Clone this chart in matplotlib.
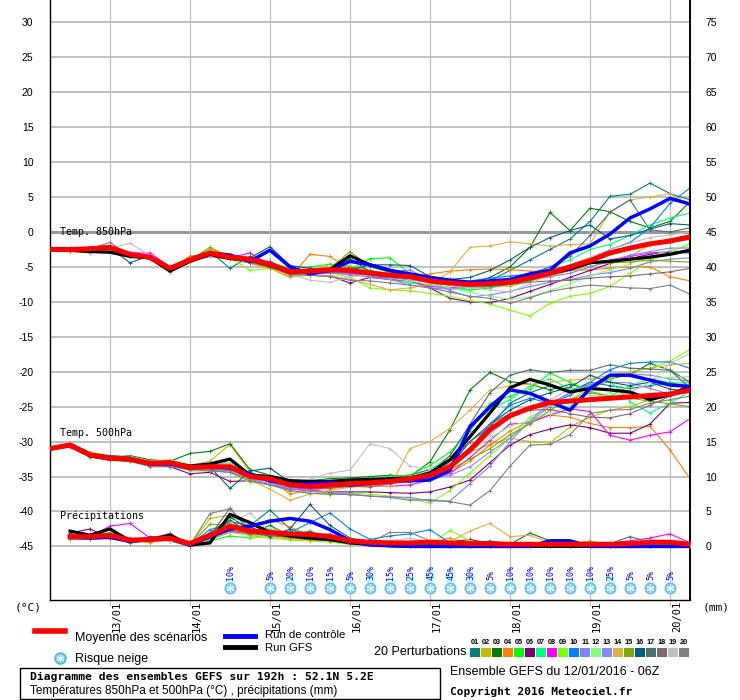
import numpy as np
import matplotlib.pyplot as plt
from matplotlib.lines import Line2D
from matplotlib.patches import Rectangle

# 6-hourly steps from 12/01 06Z to 20/01 06Z
steps = np.arange(33)
day_steps = [3, 7, 11, 15, 19, 23, 27, 31]
day_labels = ['13/01', '14/01', '15/01', '16/01', '17/01', '18/01', '19/01', '20/01']

pert_colors = ['#008080', '#c0c000', '#008000', '#ff8000', '#00ff00', '#800080', '#00ff80',
               '#ff00ff', '#80ff00', '#0080ff', '#8080ff', '#80ff80', '#8888ff', '#e0b040',
               '#80a800', '#006080', '#507070', '#806870', '#c0c0c0', '#808080']

# Temp 850hPa
mean850 = [-2.5,-2.5,-2.4,-2.2,-3.2,-3.6,-5.2,-4.0,-3.0,-3.6,-3.9,-4.6,-5.7,-5.6,-5.4,-5.5,-5.9,
           -6.2,-6.4,-7.0,-7.3,-7.5,-7.4,-7.2,-6.6,-5.9,-5.0,-4.1,-3.0,-2.3,-1.7,-1.3,-0.7]
ctrl850 = [-2.5,-2.5,-2.4,-2.2,-3.2,-3.6,-5.2,-4.0,-3.0,-3.3,-4.2,-2.6,-5.0,-6.0,-5.5,-4.2,-4.7,
           -5.5,-6.0,-6.5,-6.9,-7.2,-7.0,-6.8,-6.0,-5.5,-3.0,-2.0,-0.3,2.0,3.3,4.8,4.0]
gfs850 = [-2.6,-2.6,-2.8,-2.9,-3.5,-3.7,-5.6,-4.2,-3.2,-3.8,-4.0,-4.8,-5.8,-5.8,-5.4,-3.4,-4.7,
          -5.5,-6.2,-6.8,-7.2,-7.4,-7.2,-7.0,-6.6,-6.0,-5.3,-4.4,-4.2,-3.9,-3.6,-3.2,-2.6]
pert850 = [
    [-2.4,-2.3,-2.2,-2.0,-3.0,-3.4,-5.4,-3.8,-2.8,-5.2,-3.5,-4.4,-5.5,-6.0,-5.6,-5.0,-5.5,-6.0,-6.3,-6.8,-7.0,-7.2,-7.0,-5.5,-4.0,-2.5,-1.0,1.5,5.1,5.4,7.0,5.5,4.6],
    [-2.6,-2.5,-2.5,-2.3,-3.3,-3.5,-5.0,-3.9,-2.4,-3.5,-3.8,-4.8,-5.0,-5.8,-4.6,-4.8,-5.6,-6.0,-6.4,-7.2,-7.6,-7.5,-7.6,-7.8,-7.0,-6.4,-5.5,-4.9,-4.3,-3.5,-1.8,-1.0,-0.4],
    [-2.5,-2.6,-2.5,-2.4,-3.4,-3.8,-5.3,-4.2,-3.2,-3.4,-4.2,-4.6,-5.8,-5.7,-5.5,-3.8,-5.7,-6.3,-6.6,-7.0,-7.5,-7.4,-6.5,-5.0,-2.2,2.8,0.2,3.4,2.9,1.5,0.6,1.5,4.3],
    [-2.7,-2.8,-3.0,-2.6,-3.3,-3.8,-5.5,-3.4,-3.3,-3.5,-4.5,-5.2,-6.5,-3.2,-3.5,-5.4,-6.0,-6.4,-6.6,-6.0,-5.6,-5.4,-5.3,-5.4,-5.6,-5.8,-5.5,-5.4,-5.2,-5.0,-5.0,-6.4,-7.0],
    [-2.2,-2.7,-2.5,-2.5,-3.4,-3.6,-5.0,-3.8,-3.1,-3.8,-4.0,-4.3,-5.2,-5.0,-4.6,-5.4,-3.8,-3.7,-6.0,-7.3,-8.0,-8.3,-8.0,-7.5,-7.0,-6.0,-4.8,-3.8,-3.0,-2.5,-1.8,-1.4,-1.1],
    [-2.6,-2.4,-2.3,-2.3,-3.0,-3.8,-5.4,-4.2,-3.5,-3.9,-4.3,-5.0,-6.0,-6.2,-6.3,-7.3,-6.5,-6.8,-7.0,-8.0,-9.5,-10.0,-10.1,-9.5,-8.5,-7.5,-6.5,-5.5,-4.5,-3.8,-3.2,-2.9,-3.0],
    [-2.5,-2.4,-2.6,-2.3,-3.4,-3.7,-5.1,-4.0,-3.2,-3.7,-4.2,-5.0,-5.9,-5.3,-5.7,-6.0,-6.3,-6.8,-7.3,-7.6,-7.9,-8.2,-7.8,-7.5,-6.2,-5.0,-4.0,-2.5,-1.8,-0.5,1.0,2.0,2.7],
    [-2.4,-2.5,-2.3,-2.4,-3.0,-3.0,-5.0,-4.1,-3.3,-3.7,-3.0,-4.8,-6.2,-6.0,-5.8,-6.1,-6.4,-6.8,-7.0,-7.8,-8.0,-7.6,-7.2,-6.8,-6.5,-6.0,-5.5,-4.5,-4.0,-3.5,-3.0,-2.8,-2.9],
    [-2.3,-2.4,-2.5,-2.3,-3.3,-3.7,-5.3,-4.1,-2.6,-3.7,-5.5,-5.2,-6.2,-6.0,-5.8,-6.5,-8.0,-8.3,-8.4,-8.8,-9.2,-9.8,-10.3,-11.2,-12.0,-10.2,-9.2,-8.8,-7.8,-5.9,-4.0,-3.0,-1.6],
    [-2.5,-2.5,-2.4,-2.2,-3.3,-3.4,-5.3,-4.1,-3.0,-3.8,-4.4,-4.2,-5.8,-6.0,-5.3,-5.9,-6.4,-6.6,-6.8,-7.1,-7.3,-7.0,-6.6,-6.3,-6.0,-5.8,-5.5,-4.0,-2.5,-1.5,0.6,4.1,6.3],
    [-2.4,-2.5,-2.4,-2.5,-3.2,-3.6,-5.1,-4.1,-3.4,-3.6,-4.0,-4.6,-5.7,-5.8,-5.9,-6.0,-6.1,-5.8,-5.4,-7.0,-8.4,-9.3,-9.0,-8.5,-7.8,-7.2,-6.8,-6.2,-5.8,-5.2,-4.3,-3.9,-3.7],
    [-2.6,-2.5,-2.4,-2.3,-3.1,-3.5,-5.1,-3.9,-3.0,-3.5,-3.8,-4.5,-5.6,-5.8,-5.6,-5.8,-6.0,-6.6,-7.0,-7.5,-8.0,-8.6,-9.2,-9.6,-9.3,-8.4,-7.4,-6.3,-5.4,-4.6,-3.5,-2.6,-2.0],
    [-2.5,-2.6,-2.5,-2.4,-3.2,-3.7,-5.2,-3.9,-3.1,-3.6,-3.9,-4.7,-5.6,-6.0,-5.9,-6.0,-6.4,-6.8,-7.6,-8.0,-8.2,-7.8,-7.5,-7.2,-6.8,-6.4,-5.9,-5.0,-4.2,-3.3,-2.8,-2.3,-2.3],
    [-2.6,-2.7,-2.8,-2.5,-3.5,-3.9,-5.6,-4.3,-3.4,-3.9,-4.1,-4.9,-6.4,-6.2,-6.2,-6.8,-7.5,-8.3,-8.0,-7.5,-5.7,-2.2,-2.0,-1.4,-1.7,-2.0,-1.8,-1.7,2.9,4.6,5.0,5.5,3.9],
    [-2.5,-2.4,-2.6,-2.4,-3.3,-3.6,-5.3,-4.0,-2.2,-3.6,-3.8,-5.2,-5.6,-5.6,-5.2,-2.8,-5.0,-5.8,-6.4,-7.0,-7.6,-7.7,-7.4,-6.9,-6.0,-5.4,-4.8,-4.5,-4.4,-4.3,-4.0,-4.2,-4.3],
    [-2.4,-2.3,-2.5,-2.3,-4.4,-3.4,-5.0,-3.7,-2.8,-3.4,-3.7,-2.1,-4.8,-5.2,-5.6,-5.4,-4.7,-4.7,-4.8,-6.4,-6.8,-6.5,-5.5,-4.0,-2.2,-0.8,0.2,1.0,-1.0,-0.5,0.4,1.2,1.0],
    [-2.5,-2.4,-2.3,-2.3,-3.2,-3.6,-5.1,-3.9,-3.1,-3.6,-4.0,-4.5,-5.5,-5.4,-5.5,-5.6,-6.0,-6.2,-6.4,-6.8,-7.2,-7.4,-7.3,-6.8,-6.0,-5.0,-3.5,-0.5,2.8,4.6,0.3,0.0,0.6],
    [-2.6,-2.5,-2.4,-2.3,-3.3,-3.7,-5.3,-4.0,-3.2,-3.7,-4.1,-4.8,-5.9,-5.8,-5.7,-5.8,-6.2,-6.5,-6.8,-7.2,-7.6,-7.9,-7.8,-7.5,-7.2,-7.0,-6.9,-6.6,-6.4,-6.3,-6.0,-5.7,-5.2],
    [-2.4,-2.5,-2.3,-2.4,-1.6,-3.4,-5.0,-3.7,-3.2,-3.5,-3.9,-4.7,-6.0,-6.9,-7.2,-6.4,-6.2,-6.4,-6.8,-7.2,-7.6,-8.0,-8.3,-8.6,-7.4,-6.0,-4.7,-3.6,-2.5,-1.6,-0.8,-0.4,0.0],
    [-2.7,-2.6,-2.4,-1.5,-3.4,-3.9,-5.7,-4.2,-3.3,-3.9,-4.4,-4.9,-6.1,-6.2,-6.4,-6.9,-7.0,-7.3,-7.6,-8.0,-8.6,-9.2,-9.5,-10.2,-9.4,-8.5,-8.0,-7.6,-7.8,-8.0,-8.1,-7.6,-8.9],
]

# Temp 500hPa
mean500 = [-31.0,-30.5,-31.9,-32.4,-32.5,-33.1,-33.0,-33.7,-33.6,-33.6,-35.0,-35.3,-36.2,-36.4,-36.2,-36.0,-35.9,
           -35.7,-35.3,-34.8,-33.6,-31.2,-28.3,-26.3,-25.2,-24.4,-24.2,-24.0,-23.8,-23.6,-23.4,-23.2,-22.6]
ctrl500 = [-31.0,-30.5,-32.0,-32.5,-32.6,-33.2,-33.2,-33.8,-33.5,-33.8,-34.6,-35.6,-36.1,-36.0,-35.8,-36.2,-36.0,
           -35.6,-35.6,-35.5,-34.1,-27.9,-25.0,-22.6,-23.1,-24.3,-25.5,-22.4,-20.5,-20.5,-21.2,-21.9,-22.1]
gfs500 = [-31.0,-30.4,-31.8,-32.3,-32.5,-33.2,-33.0,-33.5,-33.2,-32.5,-34.8,-35.0,-35.6,-35.7,-35.7,-35.5,-35.4,
          -35.3,-35.2,-34.5,-32.6,-29.3,-25.9,-22.3,-21.1,-21.9,-22.9,-22.4,-22.6,-22.9,-24.0,-23.3,-22.1]
pert500 = [
    [-31.0,-30.6,-32.2,-32.2,-32.4,-33.5,-33.2,-33.8,-33.8,-34.0,-35.2,-35.0,-36.0,-35.8,-36.0,-36.3,-35.6,-35.0,-34.8,-34.0,-32.5,-30.0,-27.9,-24.5,-23.0,-22.0,-22.8,-21.5,-22.0,-22.4,-22.0,-21.5,-22.5],
    [-31.1,-30.2,-31.5,-32.0,-32.2,-32.9,-32.6,-33.4,-32.8,-30.4,-34.4,-35.8,-36.5,-36.6,-36.8,-36.3,-36.0,-35.8,-35.5,-35.2,-33.5,-31.5,-30.4,-29.5,-30.0,-30.2,-27.9,-26.5,-25.5,-25.0,-24.0,-23.0,-22.0],
    [-31.0,-30.5,-31.8,-32.3,-32.0,-32.6,-32.8,-31.7,-31.4,-30.3,-34.0,-34.8,-35.5,-35.6,-35.3,-35.2,-35.0,-34.8,-35.0,-32.9,-28.3,-22.6,-20.1,-21.4,-21.8,-22.6,-21.8,-22.5,-21.0,-20.4,-18.8,-19.8,-21.5],
    [-31.2,-30.7,-32.0,-32.6,-32.8,-33.0,-33.4,-33.5,-33.3,-33.9,-35.3,-35.4,-37.5,-37.0,-36.6,-36.5,-36.3,-36.0,-35.6,-35.0,-34.5,-32.8,-30.5,-28.5,-27.0,-26.2,-26.5,-27.4,-28.0,-28.0,-27.8,-31.2,-35.3],
    [-31.0,-30.3,-31.7,-32.5,-32.3,-33.0,-32.8,-33.6,-33.6,-33.4,-34.8,-35.0,-36.0,-35.6,-35.5,-35.4,-35.4,-35.0,-34.8,-33.4,-31.5,-28.5,-24.5,-23.5,-22.5,-20.2,-21.5,-22.8,-23.5,-22.0,-21.0,-21.6,-21.6],
    [-31.0,-30.8,-32.2,-32.5,-32.6,-33.4,-33.6,-34.6,-34.4,-35.7,-35.6,-36.2,-36.8,-37.0,-37.2,-37.2,-37.2,-37.3,-37.4,-37.2,-36.5,-35.5,-33.0,-30.5,-29.0,-28.2,-27.6,-28.0,-28.8,-28.8,-27.5,-24.5,-24.4],
    [-31.0,-30.5,-32.0,-32.3,-32.6,-33.2,-33.0,-33.8,-33.6,-33.8,-35.0,-35.6,-36.4,-36.8,-36.4,-36.0,-36.0,-35.6,-35.2,-34.2,-32.0,-28.0,-25.4,-24.0,-22.0,-21.0,-22.5,-22.0,-21.3,-24.3,-25.9,-24.5,-22.8],
    [-31.0,-30.6,-32.0,-32.6,-32.4,-33.2,-33.0,-33.6,-33.3,-33.0,-35.0,-35.8,-36.6,-36.8,-36.6,-36.2,-36.3,-36.4,-36.2,-35.5,-34.5,-32.3,-29.8,-27.5,-27.3,-26.2,-25.3,-25.7,-29.1,-29.8,-29.1,-28.6,-26.7],
    [-31.0,-30.6,-32.3,-32.6,-32.9,-33.4,-33.3,-34.2,-34.2,-34.4,-35.8,-36.2,-37.0,-37.4,-37.6,-37.4,-37.5,-37.8,-38.2,-38.8,-37.0,-34.5,-32.0,-29.5,-26.5,-25.0,-24.0,-22.5,-21.0,-20.0,-19.5,-18.5,-16.8],
    [-31.0,-30.4,-31.9,-32.4,-32.5,-33.1,-33.2,-33.7,-33.9,-34.1,-34.6,-35.2,-36.0,-36.2,-36.2,-35.9,-36.2,-35.9,-35.7,-35.0,-33.8,-31.0,-27.5,-24.8,-23.8,-24.5,-23.4,-21.5,-19.7,-18.8,-18.6,-18.6,-19.5],
    [-31.0,-30.5,-32.0,-32.5,-32.8,-33.4,-33.4,-34.0,-34.0,-34.4,-35.4,-36.0,-36.8,-37.0,-37.4,-37.5,-37.8,-37.9,-38.0,-38.5,-38.5,-36.0,-33.5,-30.0,-27.0,-24.5,-23.0,-22.0,-20.5,-20.3,-20.5,-21.0,-21.4],
    [-30.9,-30.4,-31.8,-32.2,-32.1,-32.8,-32.6,-33.3,-33.2,-33.0,-34.6,-34.8,-35.8,-35.7,-35.5,-35.5,-35.2,-35.1,-35.0,-34.5,-33.5,-31.5,-29.5,-27.8,-27.0,-26.0,-24.8,-24.0,-23.0,-22.0,-21.0,-20.8,-20.7],
    [-31.1,-30.6,-32.1,-32.7,-32.6,-33.3,-33.4,-33.9,-34.0,-34.2,-35.4,-35.7,-36.6,-36.6,-36.5,-36.4,-36.2,-36.0,-35.8,-35.4,-34.8,-33.6,-31.5,-29.5,-27.2,-25.0,-23.0,-21.8,-21.5,-21.6,-22.4,-23.2,-23.0],
    [-31.0,-30.5,-31.9,-32.5,-32.7,-33.2,-33.3,-33.8,-33.8,-34.0,-35.5,-36.8,-38.4,-37.5,-37.0,-36.5,-36.3,-36.4,-31.0,-30.0,-28.1,-25.5,-22.6,-22.0,-21.8,-21.5,-21.2,-21.0,-20.5,-20.0,-19.5,-19.0,-18.8],
    [-31.0,-30.5,-31.8,-32.3,-32.5,-33.0,-33.0,-33.6,-33.5,-33.4,-34.8,-35.2,-36.2,-36.4,-36.3,-36.2,-36.0,-35.8,-35.6,-35.3,-34.0,-32.5,-31.0,-29.0,-27.5,-25.5,-24.0,-23.0,-23.5,-23.8,-24.2,-24.6,-25.0],
    [-31.0,-30.6,-31.8,-32.0,-32.2,-33.0,-33.3,-33.8,-33.6,-36.7,-34.2,-33.8,-35.8,-35.9,-35.8,-35.8,-35.6,-35.5,-35.4,-35.0,-33.5,-30.0,-27.5,-25.5,-24.0,-23.0,-22.2,-20.5,-21.5,-22.0,-21.5,-22.5,-22.8],
    [-31.0,-30.5,-32.0,-32.4,-32.6,-33.2,-33.1,-33.7,-33.5,-33.7,-35.0,-35.4,-36.3,-36.6,-36.5,-36.4,-36.0,-35.8,-35.4,-34.6,-32.0,-27.5,-23.0,-20.5,-19.7,-20.1,-19.8,-19.8,-19.0,-19.5,-19.6,-19.8,-22.3],
    [-31.0,-30.5,-32.0,-32.4,-32.7,-33.3,-33.2,-33.8,-33.8,-34.0,-35.2,-35.6,-36.4,-36.6,-36.6,-36.4,-36.5,-36.0,-35.6,-35.0,-33.0,-30.0,-27.5,-26.0,-25.5,-25.4,-26.0,-26.5,-26.6,-26.0,-24.8,-23.5,-22.5],
    [-30.8,-30.2,-31.6,-32.2,-32.3,-32.9,-32.8,-33.5,-33.3,-33.5,-34.8,-35.0,-35.8,-35.4,-34.5,-34.1,-30.3,-31.0,-33.5,-34.0,-33.0,-31.5,-29.0,-26.5,-25.0,-24.0,-22.5,-23.4,-23.5,-23.0,-21.5,-18.8,-17.4],
    [-31.1,-30.7,-32.2,-32.6,-32.8,-33.6,-33.6,-34.0,-34.2,-34.4,-35.6,-36.2,-37.0,-37.4,-37.5,-37.6,-37.8,-38.0,-38.4,-38.3,-38.6,-39.1,-37.0,-33.5,-30.5,-30.4,-29.0,-26.0,-25.5,-25.4,-24.5,-24.0,-23.5],
]

# Precipitation (mm / 6h), from 12/01 12Z
steps_rr = np.arange(1, 33)
mean_rr = [1.4,1.4,1.6,0.9,1.0,1.2,0.4,1.6,2.9,2.2,2.0,1.8,1.7,1.4,0.8,0.6,0.5,0.5,0.6,0.5,0.4,0.4,0.3,0.3,0.3,0.3,0.3,0.3,0.4,0.6,0.6,0.3]
ctrl_rr = [1.3,1.2,1.3,0.7,1.0,1.1,0.2,1.4,2.5,2.9,3.6,4.0,3.6,2.4,0.8,0.2,0.1,0.0,0.0,0.0,0.0,0.0,0.0,0.0,0.8,0.8,0.0,0.0,0.0,0.0,0.0,0.0]
gfs_rr = [2.2,1.6,2.5,0.8,0.9,1.6,0.2,0.5,4.6,3.4,2.0,1.5,1.2,1.0,0.5,0.3,0.1,0.0,0.1,0.0,0.0,0.0,0.0,0.0,0.0,0.0,0.0,0.0,0.0,0.0,0.0,0.0]
pert_rr = [
    [1.2,1.0,1.5,0.5,1.2,1.0,0.0,2.0,3.5,3.0,5.2,2.5,1.5,1.8,0.5,0.3,0.2,0.4,0.0,0.0,0.0,0.0,0.2,0.5,0.0,0.0,0.3,0.5,0.2,0.0,0.0,0.0],
    [1.5,1.8,1.2,0.9,0.5,1.5,0.2,4.0,4.5,2.0,1.5,1.0,0.8,1.2,0.8,0.4,0.5,0.3,0.2,0.2,0.8,0.5,0.3,0.2,0.0,0.4,0.8,0.3,0.5,0.2,0.0,0.0],
    [1.6,1.2,1.8,0.8,1.0,0.8,0.0,1.5,3.8,1.8,3.0,1.5,2.2,1.0,0.6,0.4,0.3,0.1,0.2,0.0,0.5,0.7,0.3,1.9,0.8,0.4,0.2,0.3,0.0,0.2,0.0,0.0],
    [1.0,1.3,1.1,1.2,0.6,0.9,0.3,1.0,2.2,2.6,3.9,2.8,1.5,1.3,1.0,0.8,0.6,0.4,0.5,1.2,0.3,0.2,0.5,0.2,0.0,0.2,0.1,0.0,0.3,0.2,0.4,0.0],
    [1.8,1.5,2.0,1.0,0.8,1.4,0.0,0.8,1.5,1.2,1.8,2.0,1.4,0.9,0.3,0.2,0.4,0.2,0.0,0.0,0.2,0.1,0.0,0.0,0.0,0.3,0.0,0.0,0.2,0.0,0.2,0.0],
    [1.9,2.5,1.2,0.6,1.4,1.3,0.5,1.2,2.4,2.8,1.6,1.2,1.0,0.8,0.4,0.3,0.5,0.4,0.2,0.6,1.0,0.4,0.2,0.0,0.0,0.0,0.2,0.0,0.0,0.2,0.0,0.0],
    [1.3,1.1,1.4,0.8,0.8,0.9,0.0,1.8,2.6,2.0,1.4,2.3,2.0,1.5,0.7,0.5,0.4,0.3,0.0,0.0,0.0,0.0,0.2,0.0,0.0,0.3,0.0,0.0,0.0,0.0,0.2,0.0],
    [1.2,1.4,2.9,3.3,1.2,0.8,0.2,1.4,2.2,1.8,2.4,1.6,1.2,1.0,0.6,0.5,0.4,0.2,0.0,0.0,0.0,0.0,0.0,0.0,0.0,0.0,0.3,0.5,0.8,1.2,1.8,0.5],
    [1.0,1.2,1.3,0.7,0.9,1.0,0.0,1.6,3.0,1.4,1.2,0.9,0.8,0.6,0.3,0.2,0.1,0.0,0.2,2.3,0.8,0.4,0.2,0.0,0.0,0.0,0.0,0.0,0.0,0.0,0.0,0.0],
    [1.4,1.3,1.5,0.8,1.0,1.3,0.3,2.4,3.2,2.5,1.8,2.0,3.4,4.8,2.5,1.0,1.5,1.8,2.4,0.5,0.3,0.8,0.3,0.2,0.0,0.0,0.0,0.0,0.2,0.0,0.0,0.0],
    [1.1,1.0,1.2,0.9,1.1,1.0,0.4,1.0,2.0,2.3,1.9,1.4,1.6,1.2,1.0,0.6,0.3,0.5,0.4,0.2,0.0,0.0,0.0,0.0,0.2,0.0,0.0,0.0,0.0,0.3,0.5,0.0],
    [1.3,1.5,1.6,0.7,1.1,1.2,0.2,1.7,2.8,2.1,2.6,1.8,1.3,1.1,0.5,0.4,0.5,0.3,0.0,0.2,0.0,0.0,0.0,0.0,0.0,0.0,0.0,0.0,0.0,0.0,0.0,0.0],
    [1.5,1.2,1.4,1.0,0.9,1.1,0.3,1.3,2.5,3.0,2.2,1.7,1.9,1.6,0.9,0.4,0.3,0.2,0.0,0.2,0.0,0.0,0.2,0.0,0.0,0.0,0.0,0.0,0.0,0.0,0.0,0.0],
    [1.2,1.0,1.3,0.8,1.0,0.8,0.1,1.2,2.0,1.6,1.4,1.2,1.1,0.9,0.4,0.3,0.2,0.4,0.5,0.7,2.2,3.3,1.4,1.6,0.5,0.3,0.0,0.0,0.0,0.0,0.0,0.0],
    [1.4,1.3,1.7,0.9,0.9,1.2,0.2,3.2,3.0,1.9,1.7,1.5,1.6,1.2,0.7,0.5,0.5,0.4,0.2,0.0,0.0,0.0,0.3,0.0,0.0,0.2,0.0,0.4,0.3,0.0,0.0,0.0],
    [1.3,1.4,1.5,0.6,1.0,1.1,0.0,1.8,4.2,2.4,1.4,2.5,6.0,3.0,1.2,0.6,0.4,0.2,0.0,0.0,0.0,0.0,0.0,0.0,0.0,0.0,0.0,0.0,0.0,0.0,0.0,0.0],
    [1.2,1.1,1.3,0.8,1.2,1.8,0.2,1.5,5.5,2.0,1.8,1.4,1.2,1.0,0.8,0.4,0.3,0.2,0.0,0.2,0.0,0.0,0.3,0.2,0.5,0.5,0.6,0.4,1.4,0.6,0.3,0.0],
    [1.4,1.2,1.4,0.7,0.8,1.0,0.3,1.2,2.3,1.8,1.6,1.3,1.0,0.8,0.5,0.4,0.2,0.0,0.2,0.0,0.0,0.2,0.0,0.0,0.0,0.0,0.0,0.2,0.0,0.0,0.0,0.0],
    [1.7,1.6,1.3,0.9,1.0,0.9,0.4,1.9,3.3,4.8,2.0,1.6,1.4,1.2,1.0,0.8,0.8,1.2,0.6,0.4,0.2,0.0,0.0,0.0,0.0,0.0,0.0,0.0,0.0,0.5,0.2,0.0],
    [1.1,1.3,1.2,1.1,0.9,1.9,0.2,4.7,5.4,2.5,1.9,1.5,1.7,1.1,0.6,0.6,2.0,2.0,0.8,0.4,0.3,0.2,0.0,0.0,0.0,0.0,0.0,0.0,0.0,0.0,0.0,0.0],
]

# snow risk (%)
snow_steps = [9, 11, 12, 13, 14, 15, 16, 17, 18, 19, 20, 21, 22, 23, 24, 25, 26, 27, 28, 29, 30, 31]
snow_pct = [10, 5, 20, 10, 15, 5, 30, 15, 25, 45, 45, 30, 5, 10, 10, 10, 10, 10, 25, 5, 5, 5]

W, H = 740, 700
def fx(px):
    return px / W
def fy(py):
    return 1 - py / H

MONO = 'DejaVu Sans Mono'
SANS = 'Liberation Sans'

fig = plt.figure(figsize=(7.4, 7.0), dpi=100)
ax = fig.add_axes([fx(50), fy(600), 640 / W, 600 / H])
ylo, yhi = -52.67, 33.2
ax.set_xlim(0, 32)
ax.set_ylim(ylo, yhi)

for v in range(-45, 31, 5):
    if v == 0:
        ax.axhline(v, color='#999999', lw=2.2, zorder=1)
    else:
        ax.axhline(v, color='#c0c0c0', lw=1.4, zorder=1)
for d in day_steps:
    ax.axvline(d, color='#c0c0c0', lw=0.9, zorder=1)

ax.set_yticks(range(-45, 31, 5))
ax.set_yticklabels([str(v) for v in range(-45, 31, 5)], fontfamily=SANS, fontsize=7.5)
ax.tick_params(axis='y', length=0, pad=12)
ax.set_xticks(day_steps)
ax.set_xticklabels([])
ax.tick_params(axis='x', length=4, color='#c0c0c0', width=0.9)
ax.spines['top'].set_visible(False)
for s in ['left', 'right', 'bottom']:
    ax.spines[s].set_color('black')
    ax.spines[s].set_linewidth(1.0)
ax.spines['right'].set_linewidth(1.4)

ax2 = ax.twinx()
ax2.set_ylim(ylo + 45, yhi + 45)
ax2.set_yticks(range(0, 76, 5))
ax2.set_yticklabels([str(v) for v in range(0, 76, 5)], fontfamily=SANS, fontsize=7.5)
ax2.tick_params(axis='y', length=0, pad=11)
for s in ax2.spines.values():
    s.set_visible(False)

# spaghetti
for k in range(20):
    c = pert_colors[k]
    ax.plot(steps, pert850[k], color=c, lw=0.8, marker='+', ms=3, mew=0.6, zorder=2)
    ax.plot(steps, pert500[k], color=c, lw=0.8, marker='+', ms=3, mew=0.6, zorder=2)
    ax2.plot(steps_rr, pert_rr[k], color=c, lw=0.8, marker='+', ms=3, mew=0.6, zorder=2)

ax.plot(steps, gfs850, color='black', lw=2.3, zorder=3)
ax.plot(steps, gfs500, color='black', lw=2.3, zorder=3)
ax2.plot(steps_rr, gfs_rr, color='black', lw=2.3, zorder=3)
ax.plot(steps, ctrl850, color='#0000ff', lw=2.5, zorder=4)
ax.plot(steps, ctrl500, color='#0000ff', lw=2.5, zorder=4)
ax2.plot(steps_rr, ctrl_rr, color='#0000ff', lw=2.5, zorder=4)
ax.plot(steps, mean850, color='#ff0000', lw=3.6, zorder=5)
ax.plot(steps, mean500, color='#ff0000', lw=3.6, zorder=5)
ax2.plot(steps_rr, mean_rr, color='#ff0000', lw=3.6, zorder=5)

ax.text(0.5, 0.0, 'Temp. 850hPa', fontfamily=MONO, fontsize=7.2, va='center', ha='left', zorder=6)
ax.text(0.5, -28.8, 'Temp. 500hPa', fontfamily=MONO, fontsize=7.2, va='center', ha='left', zorder=6)
ax.text(0.5, -40.6, 'Précipitations', fontfamily=MONO, fontsize=7.2, va='center', ha='left', zorder=6)

# snow risk row
deg_px = 524 / 75.0
for s, p in zip(snow_steps, snow_pct):
    ax.add_patch(Rectangle((s - 0.2, -50.25), 0.45, p * 0.3 / deg_px,
                           facecolor='#c8ffff', edgecolor='none', zorder=6))
    ax.text(s + 0.05, -49.85, '%d%%' % p, rotation=90, ha='center', va='bottom',
            fontfamily=MONO, fontsize=6, color='#0000ff', zorder=7)
ax.scatter(snow_steps, [-50.95] * len(snow_steps), s=62, color='#7cd0f5',
           edgecolors='#5aaee0', linewidths=0.6, zorder=7, clip_on=False)
ax.scatter(snow_steps, [-50.95] * len(snow_steps), s=26, marker=(6, 2, 0),
           color='white', linewidths=0.7, zorder=8, clip_on=False)

# date labels
for d, lab in zip(day_steps, day_labels):
    fig.text(fx(50 + 20 * d + 2), fy(601), lab, rotation=90, ha='left', va='top',
             fontfamily=MONO, fontsize=7.5)
fig.text(fx(15), fy(607), '(°C)', fontfamily=MONO, fontsize=8, va='center', ha='left')
fig.text(fx(703), fy(607), '(mm)', fontfamily=MONO, fontsize=8, va='center', ha='left')

# legend
fig.add_artist(Line2D([fx(35), fx(65)], [fy(631)] * 2, color='#ff0000', lw=4))
fig.text(fx(75), fy(638), 'Moyenne des scénarios', fontfamily=SANS, fontsize=9, va='center')
fig.add_artist(Line2D([fx(225), fx(255)], [fy(636)] * 2, color='#0000ff', lw=3.5))
fig.add_artist(Line2D([fx(225), fx(255)], [fy(647)] * 2, color='black', lw=3.5))
fig.text(fx(265), fy(635.5), 'Run de contrôle', fontfamily=SANS, fontsize=8.2, va='center')
fig.text(fx(265), fy(648), 'Run GFS', fontfamily=SANS, fontsize=8.2, va='center')
fig.add_artist(Line2D([fx(60)], [fy(658)], marker='o', ms=8, color='#7cd0f5', mec='#5aaee0'))
fig.add_artist(Line2D([fx(60)], [fy(658)], marker=(6, 2, 0), ms=5, color='white', mew=0.7))
fig.text(fx(75), fy(659), 'Risque neige', fontfamily=SANS, fontsize=9, va='center')
fig.text(fx(466), fy(652), '20 Perturbations', fontfamily=SANS, fontsize=9, va='center', ha='right')
for k in range(20):
    x0 = 470 + 11 * k
    fig.add_artist(Rectangle((fx(x0), fy(657)), 10 / W, 9 / H, transform=fig.transFigure,
                             facecolor=pert_colors[k], edgecolor='none'))
    fig.text(fx(x0 + 5), fy(643), '%02d' % (k + 1), fontfamily=SANS, fontsize=5.3,
             fontweight='bold', ha='center', va='center')

# info boxes
fig.add_artist(Rectangle((fx(20), fy(699)), 420 / W, 31 / H, transform=fig.transFigure,
                         facecolor='none', edgecolor='black', lw=1.0))
fig.text(fx(30), fy(677), 'Diagramme des ensembles GEFS sur 192h : 52.1N 5.2E',
         fontfamily=MONO, fontweight='bold', fontsize=8.2, va='center')
fig.text(fx(30), fy(691), 'Températures 850hPa et 500hPa (°C) , précipitations (mm)',
         fontfamily=SANS, fontsize=8.5, va='center')
fig.text(fx(450), fy(672), 'Ensemble GEFS du 12/01/2016 - 06Z', fontfamily=SANS, fontsize=9, va='center')
fig.text(fx(450), fy(692), 'Copyright 2016 Meteociel.fr', fontfamily=MONO, fontweight='bold',
         fontsize=8, va='center')

fig.savefig('out.png', dpi=100)
